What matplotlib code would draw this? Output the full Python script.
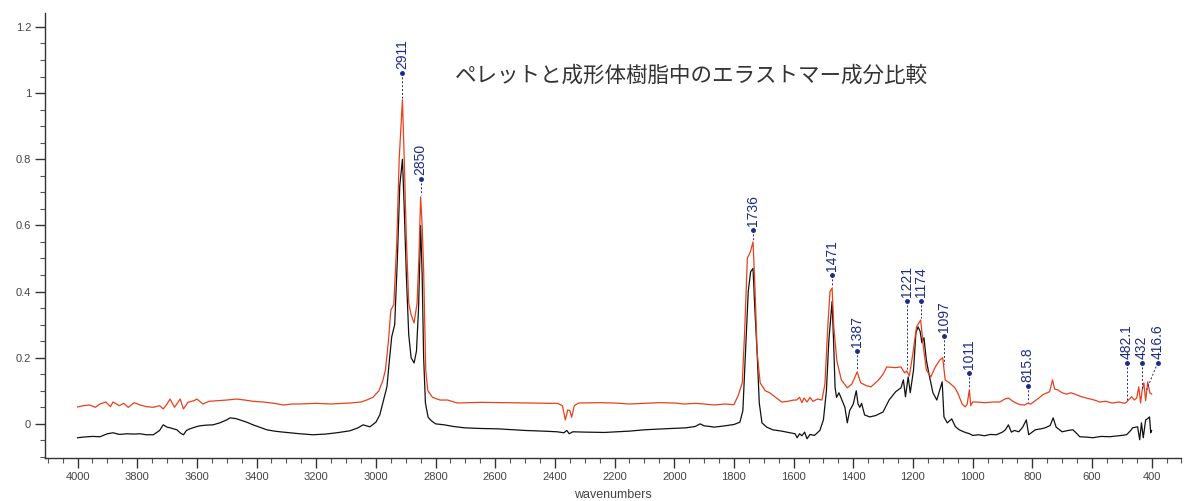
import numpy as np
import matplotlib
matplotlib.use('Agg')
from matplotlib import pyplot as plt
from matplotlib.ticker import MultipleLocator

plt.rcParams['font.family'] = ['Liberation Sans', 'DejaVu Sans']

# Spectrum of the moulded resin (black trace), wavenumber / absorbance
wn_black = [4000, 3980, 3950, 3925, 3900, 3881, 3860, 3834, 3810, 3790, 3770, 3746, 3725, 3713, 3700,
            3690, 3667, 3655, 3645, 3635, 3623, 3600, 3590, 3570, 3546, 3523, 3500, 3489, 3470, 3456,
            3430, 3412, 3390, 3366, 3340, 3322, 3290, 3255, 3211, 3170, 3131, 3087, 3060, 3043, 3020,
            3000, 2987, 2975, 2963, 2955, 2947, 2937, 2928, 2920, 2911, 2905, 2898, 2890, 2882, 2872,
            2864, 2857, 2850, 2845, 2840, 2834, 2825, 2815, 2800, 2771, 2740, 2703, 2650, 2593, 2500,
            2440, 2392, 2370, 2360, 2352, 2340, 2300, 2234, 2150, 2100, 2034, 1960, 1930, 1913, 1900,
            1880, 1866, 1830, 1800, 1780, 1770, 1762, 1752, 1744, 1736, 1730, 1722, 1715, 1706, 1690,
            1670, 1640, 1611, 1595, 1588, 1580, 1572, 1563, 1555, 1545, 1530, 1512, 1500, 1490, 1482,
            1471, 1466, 1461, 1456, 1448, 1438, 1428, 1420, 1412, 1400, 1390, 1384, 1378, 1372, 1362,
            1345, 1325, 1300, 1280, 1258, 1240, 1232, 1225, 1216, 1209, 1198, 1190, 1183, 1176, 1170,
            1163, 1155, 1147, 1133, 1120, 1110, 1102, 1096, 1085, 1070, 1058, 1045, 1030, 1021, 1010,
            1000, 980, 960, 940, 920, 900, 890, 880, 870, 860, 845, 832, 820, 812, 800,
            790, 770, 757, 740, 730, 720, 700, 680, 664, 650, 641, 620, 597, 570, 541,
            510, 484, 470, 464, 447, 440, 434, 428, 420, 414, 407, 403, 400]
abs_black = [-0.042, -0.040, -0.038, -0.039, -0.030, -0.027, -0.032, -0.030, -0.031, -0.030, -0.033, -0.033, -0.020, -0.003, -0.010,
             -0.012, -0.018, -0.028, -0.033, -0.020, -0.015, -0.008, -0.006, -0.004, -0.003, 0.003, 0.012, 0.018, 0.016, 0.012,
             0.004, -0.003, -0.010, -0.018, -0.022, -0.024, -0.027, -0.030, -0.033, -0.031, -0.027, -0.021, -0.012, -0.003, -0.009,
             0.005, 0.027, 0.070, 0.112, 0.190, 0.263, 0.300, 0.500, 0.720, 0.800, 0.650, 0.450, 0.270, 0.200, 0.184,
             0.220, 0.350, 0.600, 0.450, 0.200, 0.063, 0.020, 0.010, 0.000, -0.003, -0.008, -0.012, -0.014, -0.015, -0.020,
             -0.022, -0.024, -0.027, -0.020, -0.030, -0.024, -0.025, -0.026, -0.022, -0.018, -0.015, -0.012, -0.008, 0.000, -0.006,
             -0.008, -0.010, -0.006, -0.002, 0.005, 0.040, 0.200, 0.400, 0.460, 0.470, 0.350, 0.210, 0.063, 0.003, -0.010,
             -0.018, -0.022, -0.027, -0.030, -0.042, -0.030, -0.036, -0.025, -0.045, -0.032, -0.035, -0.020, 0.012, 0.100, 0.250,
             0.370, 0.250, 0.110, 0.080, 0.094, 0.072, 0.050, 0.003, 0.040, 0.060, 0.100, 0.060, 0.050, 0.062, 0.027,
             0.021, 0.025, 0.036, 0.072, 0.097, 0.109, 0.133, 0.082, 0.142, 0.094, 0.163, 0.275, 0.293, 0.280, 0.245,
             0.260, 0.193, 0.154, 0.094, 0.072, 0.103, 0.127, 0.021, 0.003, 0.015, -0.008, -0.018, -0.024, -0.027, -0.030,
             -0.035, -0.033, -0.036, -0.032, -0.033, -0.025, -0.018, -0.003, -0.025, -0.020, -0.024, -0.010, 0.012, -0.033, -0.025,
             -0.018, -0.015, -0.012, -0.005, 0.018, -0.010, -0.024, -0.020, -0.018, -0.030, -0.039, -0.040, -0.042, -0.038, -0.039,
             -0.036, -0.033, -0.020, -0.012, -0.009, -0.048, 0.003, -0.042, 0.012, 0.015, 0.021, -0.027, -0.020]

# Spectrum of the pellet (red trace)
wn_red = [4000, 3980, 3960, 3940, 3925, 3905, 3890, 3881, 3860, 3845, 3830, 3810, 3790, 3770, 3746,
          3725, 3713, 3700, 3690, 3675, 3656, 3645, 3630, 3610, 3600, 3580, 3560, 3530, 3500, 3467,
          3440, 3410, 3378, 3340, 3311, 3280, 3255, 3200, 3150, 3087, 3050, 3031, 3010, 2990, 2977,
          2968, 2958, 2950, 2940, 2930, 2922, 2911, 2905, 2898, 2890, 2882, 2872, 2862, 2856, 2850,
          2845, 2840, 2833, 2826, 2810, 2785, 2760, 2727, 2650, 2560, 2482, 2420, 2392, 2375, 2365,
          2357, 2350, 2344, 2335, 2320, 2250, 2200, 2150, 2100, 2050, 2000, 1967, 1930, 1900, 1866,
          1830, 1800, 1785, 1772, 1764, 1755, 1745, 1736, 1730, 1722, 1712, 1695, 1680, 1660, 1640,
          1620, 1600, 1590, 1580, 1572, 1565, 1555, 1545, 1535, 1520, 1505, 1495, 1485, 1478, 1471,
          1465, 1455, 1440, 1420, 1405, 1395, 1387, 1375, 1355, 1340, 1315, 1300, 1288, 1260, 1240,
          1228, 1221, 1212, 1200, 1188, 1174, 1165, 1155, 1140, 1125, 1110, 1100, 1092, 1078, 1060,
          1050, 1035, 1025, 1018, 1011, 1006, 1000, 985, 960, 930, 909, 892, 880, 868, 855,
          840, 826, 816, 805, 790, 775, 765, 750, 742, 732, 725, 715, 700, 685, 670,
          652, 635, 619, 600, 585, 575, 555, 531, 510, 490, 484, 467, 458, 450, 443,
          437, 432, 426, 420, 413, 406, 400]
abs_red = [0.051, 0.055, 0.057, 0.050, 0.060, 0.066, 0.052, 0.066, 0.055, 0.062, 0.050, 0.064, 0.057, 0.052, 0.050,
           0.055, 0.045, 0.060, 0.075, 0.050, 0.075, 0.045, 0.065, 0.070, 0.075, 0.060, 0.068, 0.070, 0.072, 0.075,
           0.072, 0.068, 0.066, 0.062, 0.057, 0.060, 0.060, 0.062, 0.060, 0.063, 0.066, 0.072, 0.080, 0.100, 0.130,
           0.163, 0.250, 0.344, 0.360, 0.550, 0.800, 0.980, 0.800, 0.565, 0.365, 0.330, 0.305, 0.365, 0.500, 0.686,
           0.600, 0.465, 0.163, 0.100, 0.080, 0.072, 0.072, 0.063, 0.065, 0.064, 0.063, 0.062, 0.062, 0.055, 0.012,
           0.042, 0.040, 0.020, 0.055, 0.063, 0.064, 0.063, 0.060, 0.062, 0.064, 0.063, 0.060, 0.062, 0.060, 0.057,
           0.060, 0.058, 0.087, 0.124, 0.280, 0.500, 0.520, 0.550, 0.426, 0.214, 0.124, 0.100, 0.094, 0.080, 0.066,
           0.068, 0.072, 0.072, 0.080, 0.064, 0.078, 0.066, 0.080, 0.068, 0.075, 0.072, 0.120, 0.300, 0.400, 0.410,
           0.290, 0.190, 0.133, 0.109, 0.120, 0.140, 0.157, 0.124, 0.115, 0.112, 0.133, 0.150, 0.172, 0.170, 0.172,
           0.154, 0.160, 0.145, 0.214, 0.293, 0.314, 0.233, 0.163, 0.142, 0.172, 0.193, 0.200, 0.133, 0.124, 0.110,
           0.094, 0.060, 0.051, 0.060, 0.103, 0.055, 0.066, 0.066, 0.064, 0.066, 0.066, 0.075, 0.078, 0.070, 0.063,
           0.058, 0.057, 0.062, 0.060, 0.070, 0.080, 0.088, 0.094, 0.097, 0.133, 0.105, 0.103, 0.094, 0.090, 0.094,
           0.088, 0.082, 0.078, 0.074, 0.070, 0.066, 0.068, 0.063, 0.066, 0.062, 0.066, 0.082, 0.072, 0.078, 0.112,
           0.063, 0.100, 0.124, 0.070, 0.127, 0.094, 0.090]

# Peak labels: text, wavenumber where the label sits, height of the marker dot
peak_text = ['2911', '2850', '1736', '1471', '1387', '1221', '1174', '1097', '1011', '815.8', '482.1', '432', '416.6']
peak_wn = [2911, 2850, 1736, 1471, 1387, 1221, 1174, 1097, 1011, 815.8, 482.1, 432, 416.6]
peak_label_wn = [2911, 2850, 1736, 1471, 1387, 1221, 1174, 1097, 1011, 815.8, 482.1, 432, 380]
peak_dot_y = [1.06, 0.74, 0.585, 0.45, 0.22, 0.37, 0.37, 0.265, 0.155, 0.115, 0.184, 0.184, 0.184]

title_text = 'ペレットと成形体樹脂中のエラストマー成分比較'

fig = plt.figure(figsize=(11.85, 5.01), dpi=100)
ax = fig.add_axes([0.038, 0.086, 0.959, 0.888])

ax.plot(wn_black, abs_black, color='#111111', lw=0.9)
ax.plot(wn_red, abs_red, color='#e8401c', lw=0.9)

label_col = '#1c2a8a'
red_wn_sorted = np.array(wn_red[::-1])
red_abs_sorted = np.array(abs_red[::-1])
for txt, wn, lwn, ydot in zip(peak_text, peak_wn, peak_label_wn, peak_dot_y):
    ytop = np.interp(wn, red_wn_sorted, red_abs_sorted) + 0.005
    ax.plot([lwn, wn], [ydot, ytop], color=label_col, lw=0.7, ls=(0, (2, 2)))
    ax.plot([lwn], [ydot], 'o', color=label_col, ms=2.5)
    ax.text(lwn, ydot + 0.012, txt, rotation=90, ha='center', va='bottom',
            color=label_col, fontsize=10)

ax.text(1941, 1.054, title_text, ha='center', va='center', fontsize=15.5, color='#333333',
        family=['Noto Sans CJK JP', 'DejaVu Sans'])

ax.set_xlim(4109, 300)
ax.set_ylim(-0.103, 1.242)

ax.xaxis.set_major_locator(MultipleLocator(200))
ax.xaxis.set_minor_locator(MultipleLocator(50))
ax.yaxis.set_major_locator(MultipleLocator(0.2))
ax.yaxis.set_minor_locator(MultipleLocator(0.05))
ax.set_yticks([0, 0.2, 0.4, 0.6, 0.8, 1.0, 1.2])
ax.set_yticklabels(['0', '0.2', '0.4', '0.6', '0.8', '1', '1.2'])
ax.set_xticks(np.arange(4000, 399, -200))
ax.set_xticklabels([str(v) for v in np.arange(4000, 399, -200)])

for s in ['top', 'right']:
    ax.spines[s].set_visible(False)
for s in ['left', 'bottom']:
    ax.spines[s].set_color('#333333')
    ax.spines[s].set_linewidth(1.0)

ax.tick_params(axis='both', which='major', length=7, width=1.0, color='#333333',
               labelsize=8, labelcolor='#444444', pad=3)
ax.tick_params(axis='both', which='minor', length=3.5, width=0.8, color='#555555')
ax.set_xlabel('wavenumbers', fontsize=9, color='#444444', labelpad=5)

fig.savefig('out.png', dpi=100)
